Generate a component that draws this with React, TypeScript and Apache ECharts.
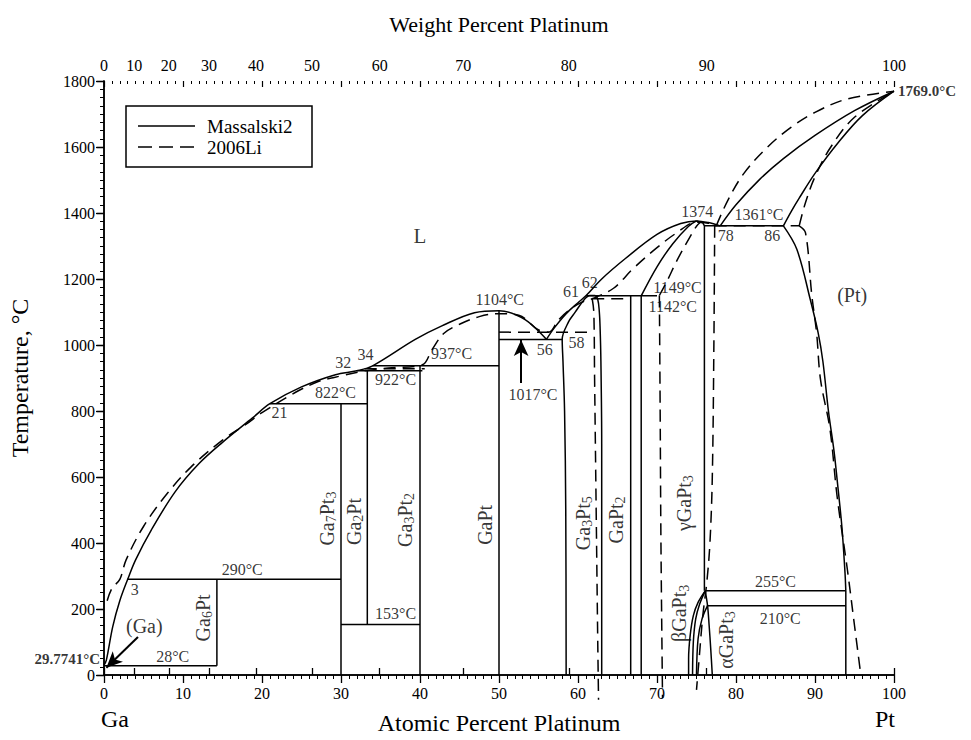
import React, { useEffect, useRef } from "react";
import * as echarts from "echarts";

// ---------- axis ticks ----------
const wtTicks = [0, 10, 20, 30, 40, 50, 60, 70, 80, 90, 100];
const M_GA = 69.723;
const M_PT = 195.084;
const wtToAt = (w: number) => {
  const p = w / M_PT;
  const g = (100 - w) / M_GA;
  return (100 * p) / (p + g);
};
const wtTickPos = wtTicks.map(wtToAt);

// ---------- Massalski2 (solid) ----------
const liqGa: number[][] = [[0, 29.77], [0.3, 45], [1.1, 146], [2, 225], [3, 290], [4, 349], [6, 440], [9, 555], [12, 640], [15, 705], [18.8, 779], [21, 822], [25, 873], [29.3, 910], [32, 922], [34, 937], [39.4, 1017], [42.7, 1057], [46.9, 1098], [50, 1104], [53.3, 1077], [56, 1017]];
const liqMid: number[][] = [[56, 1017], [57, 1052], [58.5, 1095], [60, 1128], [61, 1149], [63, 1200], [66, 1262], [70, 1335], [73, 1368], [75, 1376], [76.5, 1371], [78, 1361]];
const liqPt: number[][] = [[78, 1361], [80, 1425], [83, 1502], [86, 1565], [90, 1635], [95, 1710], [100, 1769]];
const solPt: number[][] = [[86, 1361], [87, 1405], [88, 1445], [90, 1520], [93, 1615], [96, 1695], [100, 1769]];
const gammaSol: number[][] = [[68, 1149], [70, 1237], [72, 1307], [74, 1360], [75, 1376]];
const gammaRight: number[][] = [[75, 1376], [75.8, 1370], [76, 1361], [76, 255]];
const ptSolvus: number[][] = [[86, 1361], [87.7, 1290], [89.4, 1138], [90.4, 1037], [91, 950], [91.7, 800], [92.4, 680], [92.8, 592], [93.4, 450], [93.8, 309], [93.9, 255]];
const ptVertical: number[][] = [[93.9, 255], [93.9, 0]];
const ga3pt5Phase: number[][] = [[58.5, 0], [58.45, 500], [58.3, 800], [58.1, 950], [58, 1017], [58.8, 1070], [59.6, 1098], [60.8, 1138], [61.5, 1150], [62.1, 1150], [62.5, 1138], [62.7, 1100], [62.8, 1050], [62.9, 950], [63, 700], [63, 0]];
const beta1: number[][] = [[76.1, 255], [75.2, 220], [74.6, 180], [74.2, 120], [74.0, 50], [74.0, 0]];
const beta2: number[][] = [[76.1, 255], [75.4, 215], [74.9, 170], [74.6, 100], [74.5, 0]];
const alphaL: number[][] = [[76.4, 210], [75.7, 170], [75.2, 110], [75.0, 0]];
const alphaR: number[][] = [[76.1, 255], [76.4, 210], [76.6, 150], [76.8, 80], [77.0, 0]];

const ga6pt: number[][] = [[14.29, 28], [14.29, 290]];
const iso28: number[][] = [[0, 28], [14.29, 28]];
const iso290: number[][] = [[3, 290], [30, 290]];
const ga7pt3: number[][] = [[30, 0], [30, 822]];
const iso822: number[][] = [[21, 822], [33.33, 822]];
const ga2pt: number[][] = [[33.33, 153], [33.33, 922]];
const iso153: number[][] = [[30, 153], [40, 153]];
const iso922: number[][] = [[32, 922], [40.3, 922]];
const ga3pt2: number[][] = [[40, 0], [40, 937]];
const iso937: number[][] = [[34, 937], [50, 937]];
const gapt: number[][] = [[50, 0], [50, 1104]];
const iso1017: number[][] = [[50, 1017], [58, 1017]];
const gapt2a: number[][] = [[66.67, 0], [66.67, 1149]];
const gapt2b: number[][] = [[68, 0], [68, 1149]];
const iso1149: number[][] = [[61, 1149], [70, 1149]];
const iso1361: number[][] = [[76, 1361], [86, 1361]];
const iso255: number[][] = [[76.1, 255], [93.9, 255]];
const iso210: number[][] = [[76.4, 210], [93.9, 210]];

// ---------- 2006Li (dashed) ----------
const dLiqGa: number[][] = [[0.4, 225], [1, 262], [2, 290], [2.8, 349], [5, 450], [8, 550], [11, 630], [15, 712], [18, 760], [20, 795], [24.2, 856], [27.2, 890], [29, 901], [33, 922]];
const dLiqMid: number[][] = [[33, 922], [36, 930], [40.3, 940], [41.5, 985], [43, 1035], [45, 1063], [47.5, 1086], [50, 1095], [52.5, 1090], [54.9, 1047], [56.3, 1039], [57.5, 1075], [59, 1108], [60.5, 1130], [61.8, 1140], [64.5, 1172], [67, 1232], [70, 1295], [72.5, 1340], [75, 1372], [76.5, 1369], [77.5, 1361]];
const dLiqPt: number[][] = [[77.5, 1361], [79, 1440], [81, 1520], [84, 1600], [87, 1660], [90, 1705], [94, 1745], [100, 1769]];
const dSolPt: number[][] = [[88, 1361], [88.8, 1432], [90, 1510], [92, 1600], [95, 1690], [100, 1769]];
const dIso930: number[][] = [[33, 928], [40.6, 928]];
const dIso1039: number[][] = [[50, 1039], [61.7, 1039]];
const dIso1140: number[][] = [[61.8, 1140], [66.7, 1140]];
const dIso1361: number[][] = [[77.3, 1361], [88, 1361]];
const dGa3pt5: number[][] = [[61.8, 1140], [62.0, 1100], [62.1, 900], [62.3, 500], [62.5, 100], [62.6, -75]];
const dGammaL: number[][] = [[70.3, 1150], [70.4, 800], [70.5, 400], [70.7, -70]];
const dGammaSol: number[][] = [[70.3, 1150], [71.3, 1195], [72.5, 1255], [74, 1320], [75, 1360], [75.5, 1372]];
const dGammaR: number[][] = [[77.3, 1361], [77.2, 1000], [77.0, 600], [76.7, 400], [76.3, 280], [75.8, 180], [75.3, 40], [75.0, -45]];
const dPtSolvus: number[][] = [[88, 1361], [88.8, 1340], [89.6, 1150], [90.2, 1037], [90.7, 895], [91.9, 744], [92.8, 541], [94.1, 319], [95.0, 150], [95.8, 0]];

// ---------- annotations ----------
// [at%, °C, text, rotation, fontSize]
const labels: [number, number, string, number, number][] = [
  [40, 1330, "L", 0, 21],
  [94.7, 1153, "(Pt)", 0, 20],
  [5.1, 147, "(Ga)", 0, 20],
  [17.5, 319, "290°C", 0, 16],
  [3.9, 258, "3", 0, 16],
  [8.7, 56, "28°C", 0, 16],
  [29.3, 857, "822°C", 0, 16],
  [22.2, 794, "21", 0, 16],
  [30.3, 946, "32", 0, 16],
  [33.1, 971, "34", 0, 16],
  [36.9, 894, "922°C", 0, 16],
  [44.0, 974, "937°C", 0, 16],
  [36.9, 187, "153°C", 0, 16],
  [50.1, 1138, "1104°C", 0, 16],
  [55.8, 986, "56", 0, 16],
  [59.8, 1009, "58", 0, 16],
  [59.1, 1161, "61", 0, 16],
  [61.5, 1189, "62", 0, 16],
  [54.3, 850, "1017°C", 0, 16],
  [72.6, 1174, "1149°C", 0, 16],
  [72.0, 1118, "1142°C", 0, 16],
  [75.1, 1406, "1374", 0, 16],
  [82.9, 1396, "1361°C", 0, 16],
  [78.7, 1332, "78", 0, 16],
  [84.6, 1332, "86", 0, 16],
  [85.0, 283, "255°C", 0, 16],
  [85.6, 172, "210°C", 0, 16],
  [12.5, 173, "Ga{s|6}Pt", 90, 20],
  [28.2, 474, "Ga{s|7}Pt{s|3}", 90, 20],
  [31.6, 465, "Ga{s|2}Pt", 90, 20],
  [38.1, 470, "Ga{s|3}Pt{s|2}", 90, 20],
  [48.2, 455, "GaPt", 90, 20],
  [60.6, 460, "Ga{s|3}Pt{s|5}", 90, 20],
  [64.8, 470, "GaPt{s|2}", 90, 20],
  [73.4, 521, "γGaPt{s|3}", 90, 20],
  [72.8, 187, "βGaPt{s|3}", 90, 20],
  [78.7, 106, "αGaPt{s|3}", 90, 20],
];

const arrows: number[][][] = [
  [[52.8, 885], [52.8, 1015]],
  [[4.3, 115], [0.3, 22]],
];

const solidCurves: [number[][], boolean][] = [
  [liqGa, true], [liqMid, true], [liqPt, true], [solPt, true], [gammaSol, true],
  [gammaRight, false], [ptSolvus, true], [ptVertical, false], [ga3pt5Phase, true],
  [beta1, true], [beta2, true], [alphaL, true], [alphaR, true],
  [ga6pt, false], [iso28, false], [iso290, false], [ga7pt3, false], [iso822, false],
  [ga2pt, false], [iso153, false], [iso922, false], [ga3pt2, false], [iso937, false],
  [gapt, false], [iso1017, false], [gapt2a, false], [gapt2b, false], [iso1149, false],
  [iso1361, false], [iso255, false], [iso210, false],
];
const dashedCurves: [number[][], boolean][] = [
  [dLiqGa, true], [dLiqMid, true], [dLiqPt, true], [dSolPt, true], [dIso930, false],
  [dIso1039, false], [dIso1140, false], [dIso1361, false], [dGa3pt5, true], [dGammaL, true],
  [dGammaSol, true], [dGammaR, true], [dPtSolvus, true],
];

const FONT = "Liberation Serif";

export default function App() {
  const ref = useRef<HTMLDivElement>(null);
  useEffect(() => {
    if (!ref.current) return;
    const chart = echarts.init(ref.current, null, { renderer: "svg" });
    const lineSeries = (data: number[][], smooth: boolean, dashed: boolean, name: string) => ({
      type: "line",
      name,
      data,
      symbol: "none",
      silent: true,
      smooth: smooth ? 0.35 : false,
      clip: !dashed,
      z: dashed ? 3 : 2,
      lineStyle: { color: "#000", width: 1.5, type: dashed ? [12, 7] : "solid" },
    });
    const series: any[] = [
      ...solidCurves.map(([d, s]) => lineSeries(d, s, false, "Massalski2")),
      ...dashedCurves.map(([d, s]) => lineSeries(d, s, true, "2006Li")),
      {
        type: "line",
        data: [],
        silent: true,
        markLine: {
          silent: true,
          symbol: ["none", "arrow"],
          symbolSize: [11, 16],
          label: { show: false },
          lineStyle: { color: "#000", width: 2, type: "solid" },
          data: arrows.map(([p, q]) => [{ coord: p }, { coord: q }]),
        },
      },
      {
        type: "scatter",
        silent: true,
        clip: false,
        symbolSize: 0,
        z: 6,
        data: labels.map(([a, t, text, rot, size]) => ({
          value: [a, t],
          label: {
            show: true,
            position: "inside",
            formatter: text,
            rotate: rot,
            fontSize: size,
            fontFamily: FONT,
            color: "#000",
            rich: { s: { fontSize: Math.round(size * 0.7), fontFamily: FONT, color: "#000", padding: [10, 0, 0, 0] } },
          },
        })),
      },
      {
        type: "scatter",
        silent: true,
        clip: false,
        symbolSize: 0,
        z: 6,
        data: [
          { value: [0, 29.7741], label: { show: true, position: "left", distance: 4, offset: [0, -6], formatter: "29.7741°C", fontWeight: "bold", fontSize: 15, fontFamily: FONT, color: "#000" } },
          { value: [100, 1769], label: { show: true, position: "right", distance: 4, formatter: "1769.0°C", fontWeight: "bold", fontSize: 15, fontFamily: FONT, color: "#000" } },
        ],
      },
    ];
    const axisLine = { show: true, lineStyle: { color: "#000", width: 1.5 } };
    const plain = (v: number) => String(v);
    const option: any = {
      animation: false,
      backgroundColor: "#fff",
      textStyle: { fontFamily: FONT, color: "#000" },
      grid: { left: 101, top: 81, width: 793, height: 594 },
      xAxis: [
        {
          type: "value", position: "bottom", min: 0, max: 100, interval: 10,
          name: "Atomic Percent Platinum", nameLocation: "middle", nameGap: 36,
          nameTextStyle: { fontSize: 24, fontFamily: FONT, color: "#000" },
          axisLine, splitLine: { show: false },
          axisTick: { show: true, inside: false, length: 8, lineStyle: { color: "#000", width: 1.3 } },
          minorTick: { show: true, splitNumber: 10, length: 4, lineStyle: { color: "#000", width: 1 } },
          axisLabel: { fontSize: 16, fontFamily: FONT, color: "#000", margin: 10, formatter: plain },
        },
        {
          type: "value", position: "top", min: 0, max: 100,
          name: "Weight Percent Platinum", nameLocation: "middle", nameGap: 46,
          nameTextStyle: { fontSize: 22, fontFamily: FONT, color: "#000" },
          axisLine, splitLine: { show: false },
          axisTick: { show: true, inside: false, length: 7, customValues: wtTickPos, lineStyle: { color: "#000", width: 1.3 } },
          axisLabel: {
            fontSize: 16, fontFamily: FONT, color: "#000", margin: 8, customValues: wtTickPos,
            formatter: (v: number) => {
              const i = wtTickPos.findIndex((p) => Math.abs(p - v) < 1e-6);
              return i >= 0 ? String(wtTicks[i]) : "";
            },
          },
        },
        {
          type: "value", position: "top", min: 0, max: 100, interval: 10,
          axisLine: { show: false }, splitLine: { show: false },
          axisTick: { show: true, inside: true, length: 6, lineStyle: { color: "#000", width: 1.2 } },
          minorTick: { show: true, splitNumber: 10, length: 3, lineStyle: { color: "#000", width: 1 } },
          axisLabel: { show: false },
        },
      ],
      yAxis: [
        {
          type: "value", position: "left", min: 0, max: 1800, interval: 200,
          name: "Temperature, °C", nameLocation: "middle", nameGap: 72,
          nameTextStyle: { fontSize: 24, fontFamily: FONT, color: "#000" },
          axisLine, splitLine: { show: false },
          axisTick: { show: true, inside: false, length: 7, lineStyle: { color: "#000", width: 1.3 } },
          minorTick: { show: true, splitNumber: 8, length: 4, lineStyle: { color: "#000", width: 1 } },
          axisLabel: { fontSize: 16, fontFamily: FONT, color: "#000", margin: 9, formatter: plain },
        },
        {
          type: "value", position: "right", min: 0, max: 1800, interval: 200,
          axisLine, splitLine: { show: false },
          axisTick: { show: true, inside: true, length: 8, lineStyle: { color: "#000", width: 1.3 } },
          minorTick: { show: true, splitNumber: 8, length: 4, lineStyle: { color: "#000", width: 1 } },
          axisLabel: { show: false },
        },
      ],
      graphic: [
        { type: "rect", shape: { x: 126, y: 106, width: 186, height: 61 }, style: { fill: "#fff", stroke: "#000", lineWidth: 1.5 }, z: 10 },
        { type: "line", shape: { x1: 138, y1: 126, x2: 195, y2: 126 }, style: { stroke: "#000", lineWidth: 1.5 }, z: 11 },
        { type: "line", shape: { x1: 138, y1: 147, x2: 197, y2: 147 }, style: { stroke: "#000", lineWidth: 1.5, lineDash: [14, 7] }, z: 11 },
        { type: "text", x: 207, y: 126, style: { text: "Massalski2", fontSize: 19, fontFamily: FONT, fill: "#000", textVerticalAlign: "middle" }, z: 11 },
        { type: "text", x: 207, y: 147, style: { text: "2006Li", fontSize: 19, fontFamily: FONT, fill: "#000", textVerticalAlign: "middle" }, z: 11 },
        { type: "text", x: 115, y: 719, style: { text: "Ga", fontSize: 24, fontFamily: FONT, fill: "#000", textAlign: "center", textVerticalAlign: "middle" } },
        { type: "text", x: 885, y: 719, style: { text: "Pt", fontSize: 24, fontFamily: FONT, fill: "#000", textAlign: "center", textVerticalAlign: "middle" } },
      ],
      series,
    };
    chart.setOption(option);
    return () => chart.dispose();
  }, []);
  return (
    <div
      ref={ref}
      style={{ position: "fixed", left: 0, top: 0, width: 971, height: 740, background: "#fff" }}
    />
  );
}
